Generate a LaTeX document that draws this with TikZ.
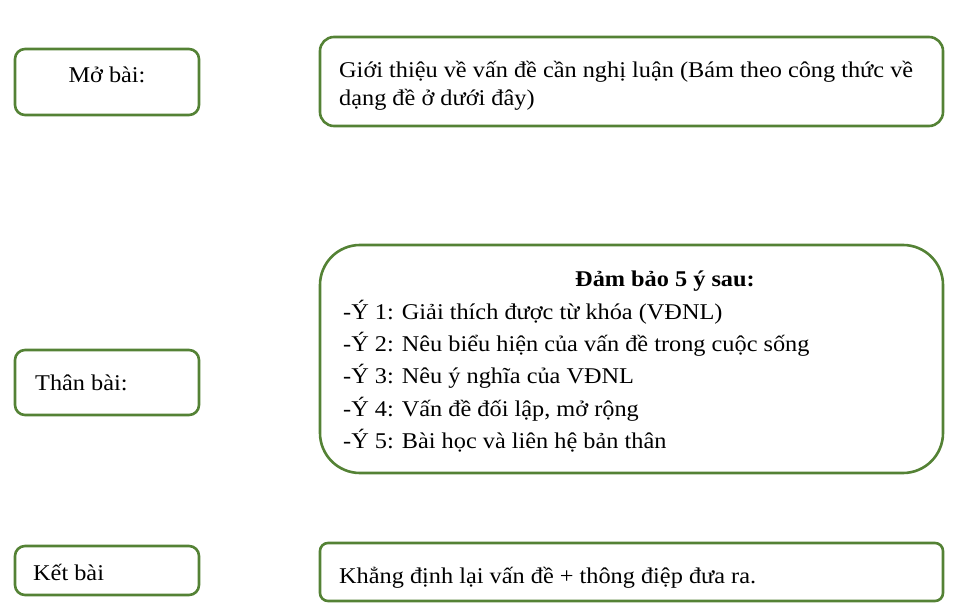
\documentclass[tikz,border=0pt]{standalone}
\usepackage{fontspec}
\setmainfont{Liberation Serif}[FakeStretch=1.08]

\definecolor{boxgreen}{HTML}{548235}

\tikzset{
  box/.style={draw=boxgreen, line width=2.6pt, rounded corners=10pt, inner sep=0pt},
  txt/.style={inner sep=0pt, font=\fontsize{22.5}{28}\selectfont},
}

\begin{document}
\begin{tikzpicture}[x=1pt, y=-1pt]
\useasboundingbox (0,0) rectangle (956,612);
% left column
\node[box, minimum width=184pt, minimum height=66pt] (mo) at (107,82) {};
\node[box, minimum width=184pt, minimum height=65pt] (than) at (107,382.5) {};
\node[box, minimum width=184pt, minimum height=49pt] (ket) at (107,570.5) {};
% right column
\node[box, rounded corners=14pt, minimum width=623pt, minimum height=89pt] (gioi) at (631.5,81.5) {};
\node[box, rounded corners=40pt, minimum width=623pt, minimum height=228pt] (dam) at (631.5,359) {};
\node[box, rounded corners=8pt, minimum width=623pt, minimum height=58pt] (khang) at (631.5,572) {};
% labels
\node[txt, anchor=base] (motxt) at (107,83) {Mở bài:};
\node[txt, anchor=base west] (thantxt) at (35,390) {Thân bài:};
\node[txt, anchor=base west] (kettxt) at (33,580) {Kết bài};
\node[txt, anchor=base west] (gioi1) at (339,78) {Giới thiệu về vấn đề cần nghị luận (Bám theo công thức về};
\node[txt, anchor=base west] (gioi2) at (339,106) {dạng đề ở dưới đây)};
\node[txt, anchor=base, font=\fontsize{22.5}{28}\selectfont\bfseries] (damtxt) at (665,287) {Đảm bảo 5 ý sau:};
\foreach \line [count=\i] in {{-Ý 1: Giải thích được từ khóa (VĐNL)},
    {-Ý 2: Nêu biểu hiện của vấn đề trong cuộc sống},
    {-Ý 3: Nêu ý nghĩa của VĐNL},
    {-Ý 4: Vấn đề đối lập, mở rộng},
    {-Ý 5: Bài học và liên hệ bản thân}}
  \node[txt, anchor=base west] (y\i) at (343,288+32*\i) {\line};
\node[txt, anchor=base west] (khangtxt) at (339,583) {Khẳng định lại vấn đề + thông điệp đưa ra.};
\end{tikzpicture}
\end{document}
